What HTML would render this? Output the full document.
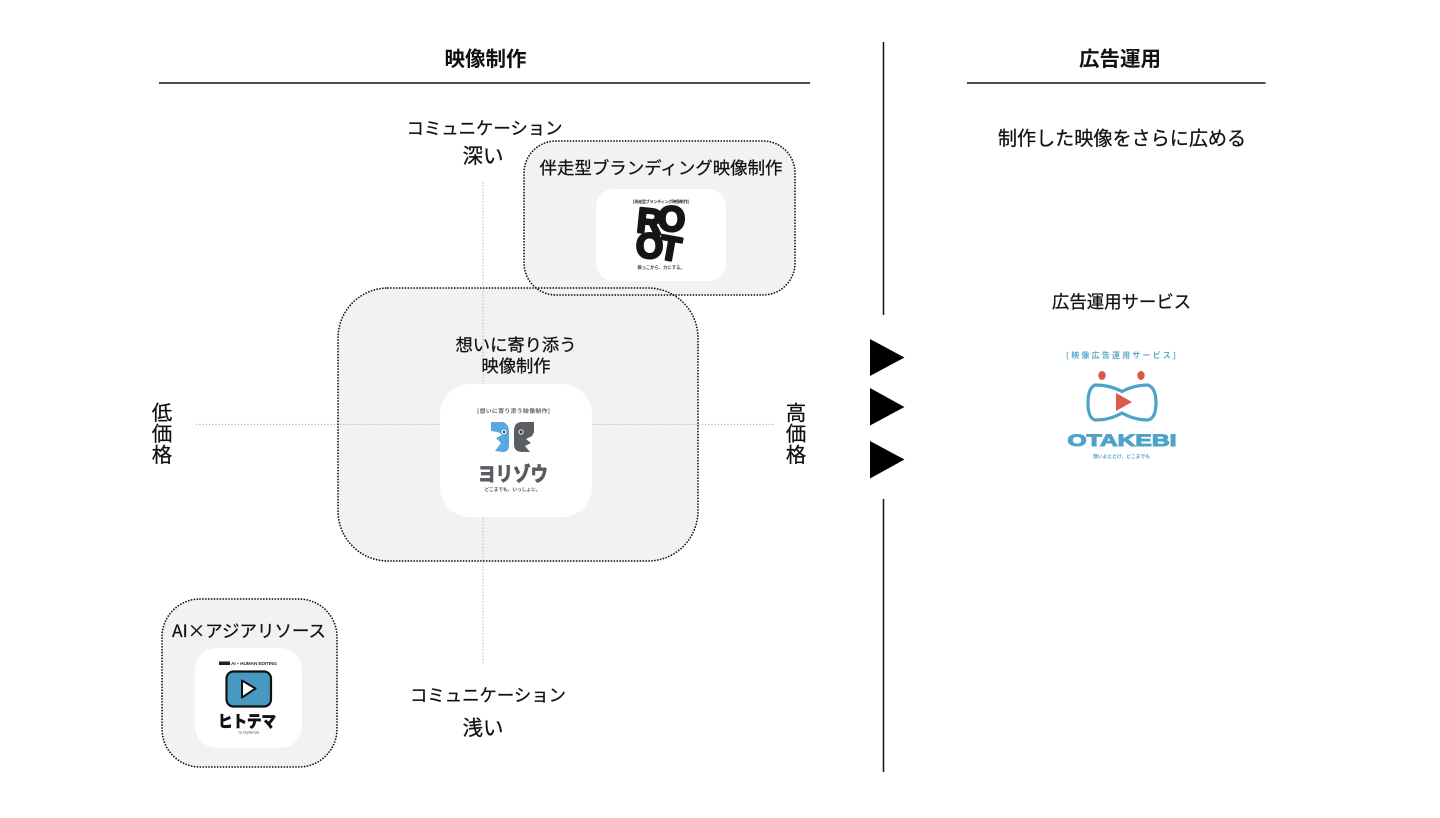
<!DOCTYPE html>
<html lang="ja">
<head>
<meta charset="utf-8">
<style>
html,body{margin:0;padding:0;background:#fff;width:1440px;height:818px;overflow:hidden}
svg{display:block}
text{font-family:"Liberation Sans","Noto Sans CJK JP",sans-serif;fill:#111}
.c{text-anchor:middle}
.t{stroke:#111;stroke-width:.25px;font-family:"Noto Sans CJK JP","Liberation Sans",sans-serif}
.h{font-family:"Noto Sans CJK JP","Liberation Sans",sans-serif;font-weight:700}
.d{fill:none;stroke:#111;stroke-width:1.8;stroke-linecap:round;stroke-dasharray:0 2.9}
.l{font-family:"Liberation Sans",sans-serif;font-weight:700}
</style>
</head>
<body>
<svg width="1440" height="818" viewBox="0 0 1440 818" xmlns="http://www.w3.org/2000/svg">
<rect width="1440" height="818" fill="#fff"/>

<!-- headers -->
<text x="485.500" y="66" class="c h" font-size="20.500">映像制作</text>
<text x="1120" y="66" class="c h" font-size="20.500">広告運用</text>
<line x1="159" y1="83" x2="810" y2="83" stroke="#111" stroke-width="1.5"/>
<line x1="967" y1="83" x2="1265.500" y2="83" stroke="#111" stroke-width="1.5"/>

<!-- divider -->
<line x1="883.500" y1="42" x2="883.500" y2="315" stroke="#111" stroke-width="1.5"/>
<line x1="883.500" y1="499" x2="883.500" y2="772" stroke="#111" stroke-width="1.5"/>
<polygon points="870,339 904.500,357.500 870,376" fill="#000"/>
<polygon points="870,388 904.500,407 870,425.500" fill="#000"/>
<polygon points="870,441 904.500,459.500 870,478.500" fill="#000"/>

<!-- dotted boxes -->
<rect x="524" y="141" width="271" height="154" rx="32" fill="#f2f2f2"/>
<rect x="338" y="288" width="360" height="273" rx="50" fill="#f2f2f2"/>
<rect x="162" y="599" width="175" height="168" rx="38" fill="#f2f2f2"/>

<!-- axes -->
<line x1="483" y1="182" x2="483" y2="665" stroke="#a4c3da" stroke-width="1.2" stroke-dasharray="1.4 1.8"/>
<line x1="196" y1="424.500" x2="775" y2="424.500" stroke="#a4c3da" stroke-width="1.2" stroke-dasharray="1.4 1.8"/>

<rect class="d" x="524" y="141" width="271" height="154" rx="32"/>
<rect class="d" x="338" y="288" width="360" height="273" rx="50"/>
<rect class="d" x="162" y="599" width="175" height="168" rx="38"/>

<!-- axis labels -->
<text x="484.500" y="134.500" class="c t" font-size="17.400" textLength="156" lengthAdjust="spacingAndGlyphs">コミュニケーション</text>
<text x="483" y="163" class="c t" font-size="20.500">深い</text>
<text x="488" y="701.500" class="c t" font-size="17.400" textLength="156" lengthAdjust="spacingAndGlyphs">コミュニケーション</text>
<text x="483" y="735" class="c t" font-size="20.500">浅い</text>
<g font-size="20.500">
<text x="162" y="420" class="c t">低</text><text x="162" y="441" class="c t">価</text><text x="162" y="462" class="c t">格</text>
<text x="796" y="420" class="c t">高</text><text x="796" y="441" class="c t">価</text><text x="796" y="462" class="c t">格</text>
</g>

<!-- box titles -->
<text x="661" y="174" class="c t" font-size="17.300" textLength="243" lengthAdjust="spacingAndGlyphs">伴走型ブランディング映像制作</text>
<text x="516" y="351" class="c t" font-size="17.300">想いに寄り添う</text>
<text x="516" y="372" class="c t" font-size="17.300">映像制作</text>
<text x="249" y="637" class="c t" font-size="17.300" textLength="154" lengthAdjust="spacingAndGlyphs">AI×アジアリソース</text>

<!-- right column -->
<text x="1122" y="145" class="c t" font-size="19.100">制作した映像をさらに広める</text>
<text x="1121.500" y="308" class="c t" font-size="17.400">広告運用サービス</text>

<!-- white cards -->
<rect x="596" y="189" width="130" height="92" rx="18" fill="#fff"/>
<rect x="440" y="384" width="152" height="133" rx="30" fill="#fff"/>
<rect x="195" y="648" width="107" height="100" rx="22" fill="#fff"/>

<!-- ROOT logo -->
<text x="661" y="203" class="c h" font-size="4.200" style="fill:#333" textLength="56" lengthAdjust="spacing">[伴走型ブランディング映像制作]</text>
<g style="stroke:#151515;stroke-width:2.6px;stroke-linejoin:round">
  <text class="l" x="637" y="233" font-size="35" transform="rotate(6 648 222)" style="fill:#151515">R</text>
  <text class="l" x="658" y="231" font-size="35" style="fill:#151515">O</text>
  <text class="l" x="636" y="258" font-size="35" style="fill:#151515">O</text>
  <text class="l" x="660" y="260" font-size="34" transform="rotate(10 670 248)" style="fill:#151515">T</text>
</g>
<text x="661" y="269" class="c h" font-size="4.300" style="fill:#444">根っこから、力にする。</text>

<!-- Yorisou logo -->
<text x="513.500" y="413" class="c h" font-size="5.800" style="fill:#666" textLength="73" lengthAdjust="spacing">[想いに寄り添う映像制作]</text>
<path d="M491 422H503Q509 424 509 432V445Q509 452 503 452L495 451 501 443 496 438 502 435 500 433Q498 432 491 431Z" fill="#5ba7e0"/>
<path d="M534 422H522Q514 422 514 431V444Q514 452 522 452H530L525 446 531 443 526 439 532 436Q534 433 534 431Z" fill="#5a5e63"/>
<circle cx="504" cy="432" r="2.300" fill="#fff"/><circle cx="504" cy="432" r="1.200" fill="#333"/>
<circle cx="521" cy="432" r="2.600" fill="#fff"/><circle cx="521" cy="432" r="1.600" fill="#333"/>
<text x="513" y="481" class="c h" font-size="20" textLength="70" lengthAdjust="spacingAndGlyphs" style="fill:#585c61;stroke:#585c61;stroke-width:.9px">ヨリゾウ</text>
<text x="512.500" y="491" class="c h" font-size="4.700" style="fill:#555">どこまでも、いっしょに。</text>

<!-- Hitotema logo -->
<rect x="219" y="661.500" width="11" height="3.500" fill="#222"/>
<text x="231" y="665" class="l" font-size="4.800" textLength="46" lengthAdjust="spacing" style="fill:#333">AI・HUMAN EDITING</text>
<rect x="226.500" y="671.500" width="44.500" height="35" rx="7" fill="#4799c1" stroke="#111" stroke-width="2.200"/>
<path d="M242 680.500L255.500 688.500 242 697.500Z" fill="#fff" stroke="#111" stroke-width="2" stroke-linejoin="round"/>
<text x="247" y="727" class="c h" font-size="16" textLength="58" lengthAdjust="spacingAndGlyphs" style="stroke:#111;stroke-width:.9px">ヒトテマ</text>
<text x="249" y="733.500" class="c" font-size="3.300" style="fill:#555">by DigitalGate</text>

<!-- OTAKEBI logo -->
<text x="1121" y="358" class="c h" font-size="7.800" textLength="110" lengthAdjust="spacing" style="fill:#58a9c9">[映像広告運用サービス]</text>
<ellipse cx="1102" cy="375.500" rx="3.700" ry="4.500" fill="#d9584c"/>
<ellipse cx="1141" cy="375.500" rx="3.700" ry="4.500" fill="#d9584c"/>
<path d="M1095 385Q1110 385 1122 391.500Q1134 385 1148 385Q1156 388 1156 403Q1156 418 1148 420Q1134 420 1122 413Q1110 420 1095 420Q1088 418 1088 403Q1088 388 1095 385Z" fill="none" stroke="#4ea3c8" stroke-width="3.200"/>
<path d="M1116 393L1132 402 1116 411Z" fill="#dc5a4f"/>
<text x="1122" y="446" class="c l" font-size="17" textLength="109" lengthAdjust="spacingAndGlyphs" style="fill:#4ea3c8;stroke:#4ea3c8;stroke-width:1px">OTAKEBI</text>
<text x="1121.500" y="458" class="c h" font-size="4.800" style="fill:#4ea3c8">想いよとどけ、どこまでも</text>
</svg>
</body>
</html>
